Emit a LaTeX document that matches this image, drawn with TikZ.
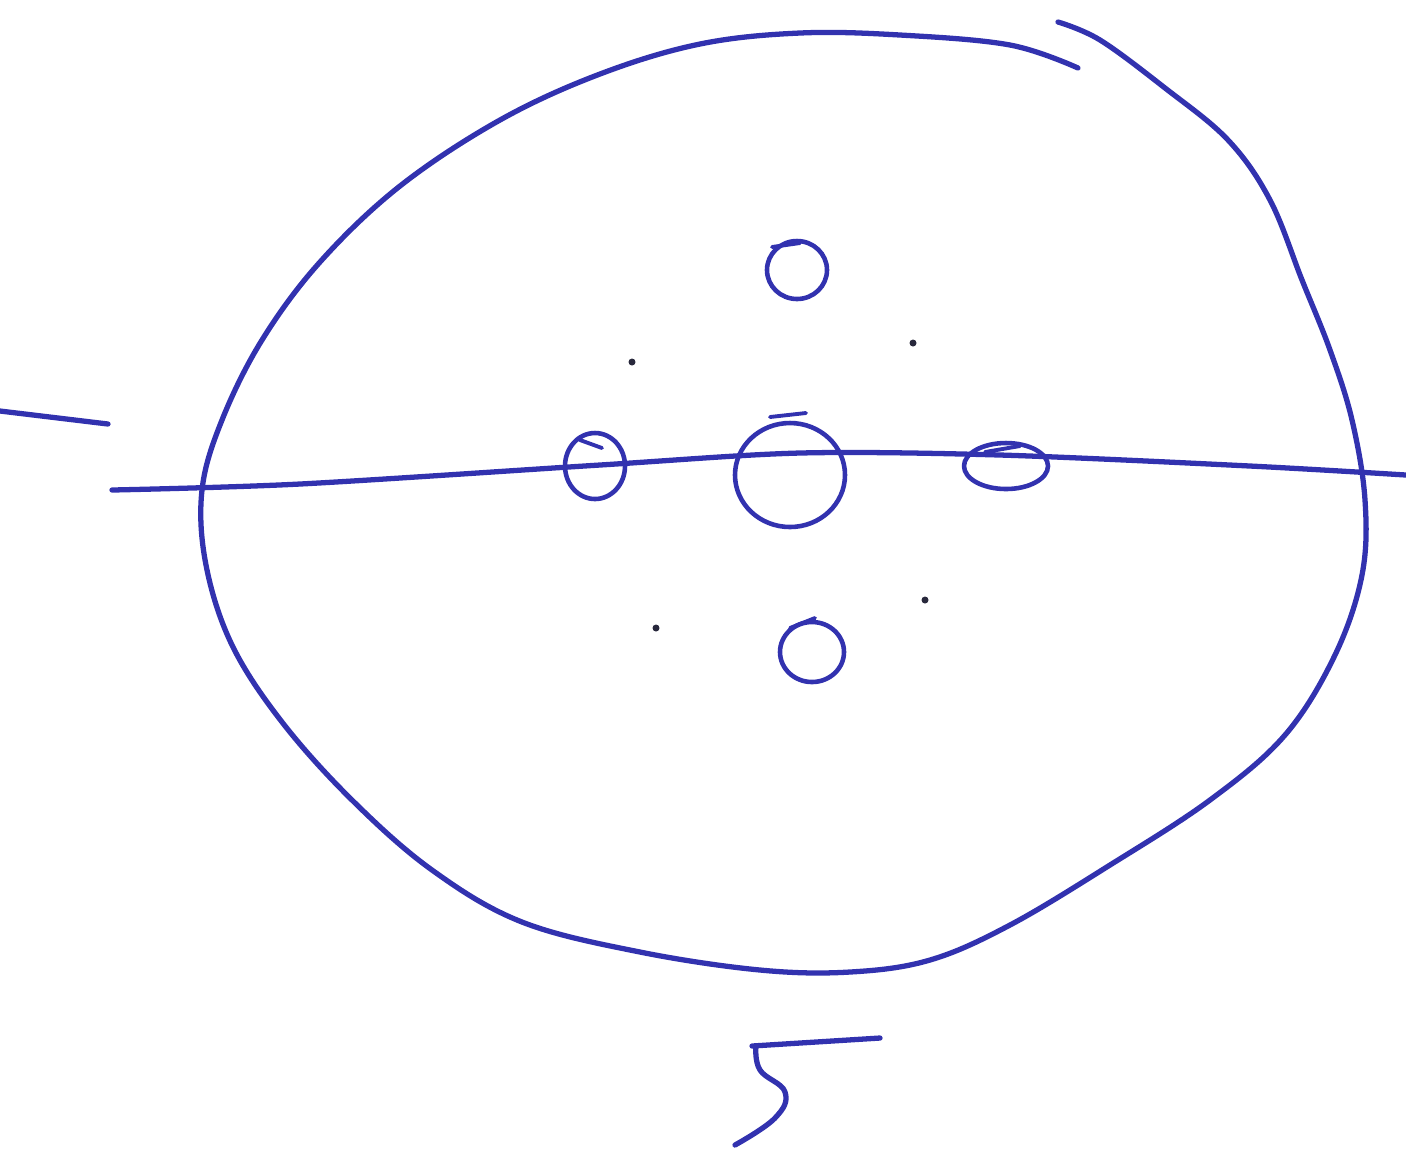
\documentclass[tikz,border=0pt]{standalone}
\usepackage{tikz}
\usetikzlibrary{calc}
\usepackage{xcolor}
\definecolor{penblue}{RGB}{50,50,175}
\definecolor{dotgray}{RGB}{40,40,60}
\tikzset{
    % Ink strokes
    pen/.style={draw=penblue, line width=1.5pt, line cap=round, line join=round},
    thinpen/.style={draw=penblue, line width=1.1pt, line cap=round},
    % Small rings and dots
    ring/.style={pen, line width=1.3pt},
    spot/.style={fill=dotgray, draw=none},
}

\begin{document}
\begin{tikzpicture}[x=0.01cm, y=-0.01cm]
\useasboundingbox (0,0) rectangle (1406,1156);

% Outer outline (two strokes)
\draw[pen] plot[smooth, tension=0.6] coordinates {
    (1078,68) (1010,45) (900,35) (800,33) (700,44) (600,74) (500,120)
    (400,186) (320,262) (262,340) (222,420) (202,490) (206,565) (232,645)
    (282,722) (352,800) (432,870) (522,922) (640,952) (760,970) (850,972)
    (930,960) (1010,925) (1110,865) (1210,800) (1285,735) (1335,655)
    (1362,575) (1365,500) (1352,420) (1330,350) (1302,280) (1270,200)
    (1228,140) (1165,88) (1100,40) (1058,22)};

% Axis line
\draw[pen] plot[smooth, tension=0.5] coordinates {
    (112,490) (300,484) (600,465) (800,453) (1000,455) (1250,466) (1406,475)};
\draw[pen] (0,411) -- (108,424);

% Rings
\draw[ring] (797,270) ellipse (30 and 29);
\draw[thinpen] (772,247) -- (800,243);
\draw[ring] (595,466) ellipse (30 and 33);
\draw[thinpen] (580,440) -- (602,448);
\draw[ring] (790,475) ellipse (55 and 52);
\draw[thinpen] (770,417) -- (806,413);
\draw[ring] (1006,466) ellipse (42 and 23);
\draw[thinpen] (985,452) -- (1020,446);
\draw[ring] (812,652) ellipse (32 and 30);
\draw[thinpen] (790,628) -- (815,618);

% Dots
\foreach \px/\py in {632/362, 913/343, 656/628, 925/600}
    \fill[spot] (\px,\py) circle (3.5);

% Mark below
\draw[pen] (752,1046) -- (880,1038);
\draw[pen] plot[smooth, tension=0.7] coordinates {
    (756,1046) (760,1070) (785,1092) (775,1118) (735,1145)};
\end{tikzpicture}
\end{document}
